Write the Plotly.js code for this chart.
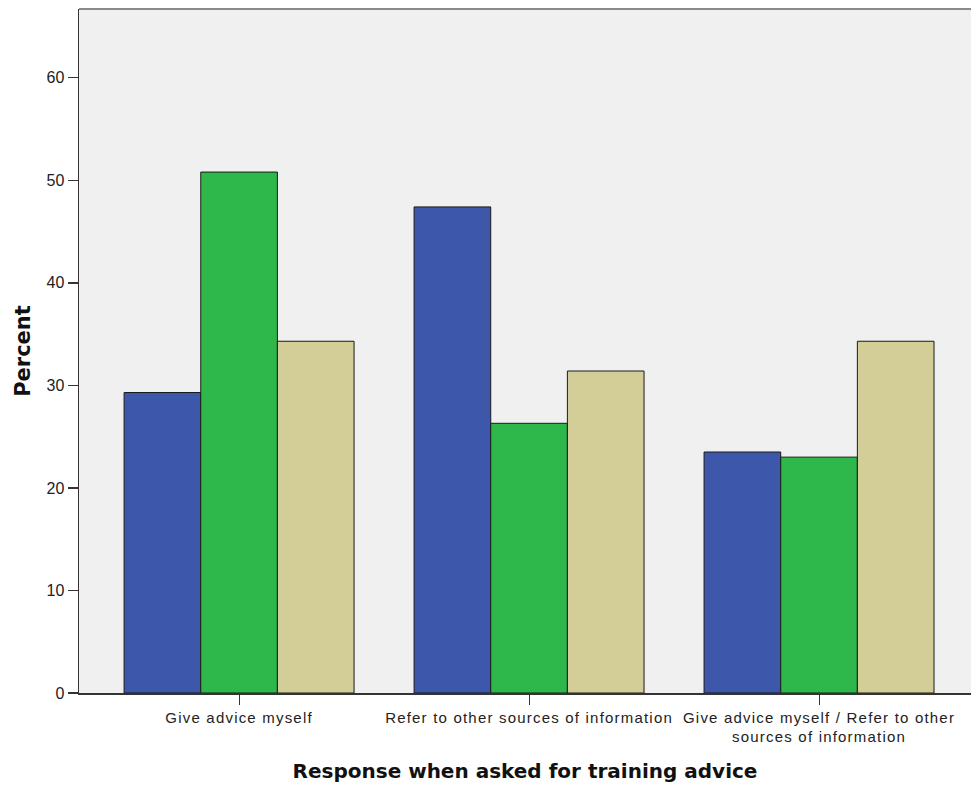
<!DOCTYPE html>
<html>
<head>
<meta charset="utf-8">
<script src="https://cdn.plot.ly/plotly-3.0.1.min.js"></script>
<style>
html,body{margin:0;padding:0;background:#fff;}
#chart{width:971px;height:789px;}
.xtick text{letter-spacing:1.2px;}
</style>
</head>
<body>
<div id="chart"></div>
<script>
const categories = ["Give advice myself", "Refer to other sources of information", "Give advice myself / Refer to other<br>sources of information"];
const seriesNames = ["Group 1", "Group 2", "Group 3"];
const seriesA = [29.3, 47.4, 23.5];
const seriesB = [50.8, 26.3, 23.0];
const seriesC = [34.3, 31.4, 34.3];
const seriesColors = ["#3d57ab", "#2eb84b", "#d3ce98"];
const yTicks = [0, 10, 20, 30, 40, 50, 60];

const allSeries = [seriesA, seriesB, seriesC];
const traces = allSeries.map((vals, i) => ({
  type: "bar",
  name: seriesNames[i],
  x: [0, 1, 2],
  y: vals,
  marker: {color: seriesColors[i], line: {color: "#1a1a1a", width: 1}},
  hoverinfo: "y"
}));

const layout = {
  width: 971,
  height: 789,
  margin: {l: 79, r: 0, t: 9, b: 96},
  paper_bgcolor: "#ffffff",
  plot_bgcolor: "#f0f0f0",
  showlegend: false,
  barmode: "group",
  bargap: 0.207,
  bargroupgap: 0,
  font: {family: "Liberation Sans, Arial, sans-serif", size: 15, color: "#222"},
  xaxis: {
    range: [-0.552, 2.524],
    tickmode: "array",
    tickvals: [0, 1, 2],
    ticktext: categories,
    ticks: "outside",
    ticklen: 10,
    tickwidth: 1,
    tickcolor: "#333",
    showline: true,
    linecolor: "#333",
    linewidth: 1.5,
    showgrid: false,
    zeroline: false,
    tickfont: {family: "Liberation Sans, Arial, sans-serif", size: 15, color: "#222"},
    title: {text: "Response when asked for training advice", font: {family: "DejaVu Sans, sans-serif", size: 20, color: "#111", weight: "bold"}, standoff: 20}
  },
  yaxis: {
    range: [0, 66.7],
    tickmode: "array",
    tickvals: yTicks,
    ticktext: yTicks.map(String),
    ticks: "outside",
    ticklen: 10,
    tickwidth: 1.5,
    tickcolor: "#333",
    showline: true,
    linecolor: "#333",
    linewidth: 1.5,
    showgrid: false,
    zeroline: false,
    tickfont: {family: "Liberation Sans, Arial, sans-serif", size: 16, color: "#222"},
    title: {text: "Percent", font: {family: "DejaVu Sans, sans-serif", size: 21, color: "#111", weight: "bold"}, standoff: 10}
  },
  shapes: [{type: "line", xref: "paper", yref: "paper", x0: 0, x1: 1, y0: 1, y1: 1, line: {color: "#8a8a8a", width: 2}}]
};

Plotly.newPlot("chart", traces, layout, {displayModeBar: false, staticPlot: true});
</script>
</body>
</html>
